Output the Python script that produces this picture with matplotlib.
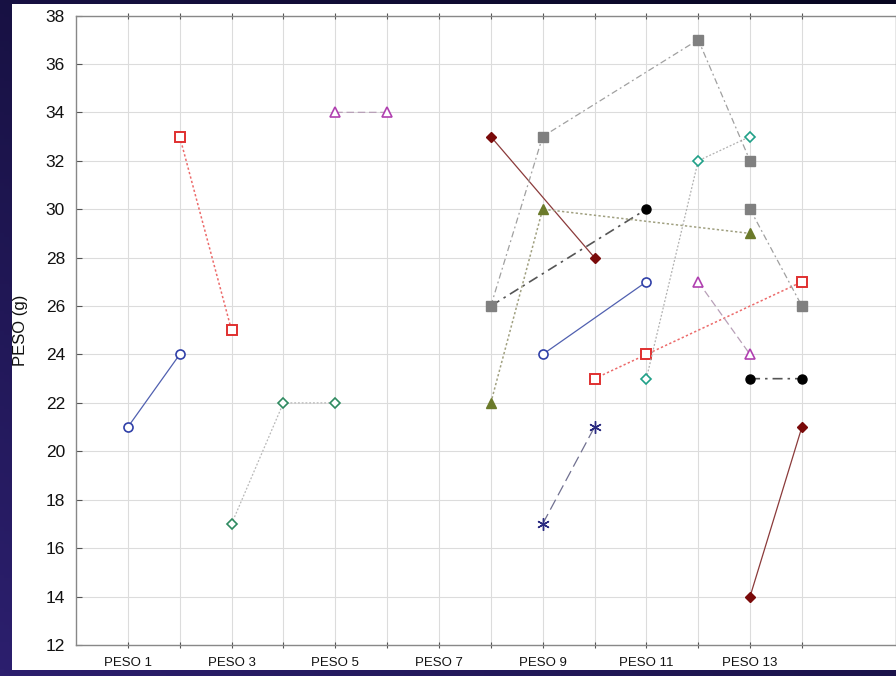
import numpy as np
import matplotlib
matplotlib.use("Agg")
import matplotlib.pyplot as plt
from matplotlib.patches import Rectangle
from matplotlib.colors import LinearSegmentedColormap

nan = np.nan

# ---- data ----
tick_positions = list(range(1, 15))
tick_labels = ['PESO 1', '', 'PESO 3', '', 'PESO 5', '', 'PESO 7', '',
               'PESO 9', '', 'PESO 11', '', 'PESO 13', '']

blue_x = [1, 2, nan, 9, 11]
blue_y = [21, 24, nan, 24, 27]

red_x = [2, 3, nan, 10, 11, 14]
red_y = [33, 25, nan, 23, 24, 27]

green_x = [3, 4, 5]
green_y = [17, 22, 22]

teal_x = [11, 12, 13]
teal_y = [23, 32, 33]

purple_x = [5, 6, nan, 12, 13]
purple_y = [34, 34, nan, 27, 24]

darkred_x = [8, 10, nan, 13, 14]
darkred_y = [33, 28, nan, 14, 21]

gray_x = [8, 9, 12, 13, nan, 13, 14]
gray_y = [26, 33, 37, 32, nan, 30, 26]

olive_x = [8, 9, 13]
olive_y = [22, 30, 29]

black_x = [8, 11, nan, 13, 14]
black_y = [26, 30, nan, 23, 23]

navy_x = [9, 10]
navy_y = [17, 21]

# ---- figure ----
W, H = 896, 676
fig = plt.figure(figsize=(W / 100, H / 100), dpi=100)
plt.rcParams['font.family'] = ['Liberation Sans Narrow', 'Liberation Sans', 'DejaVu Sans']

# background gradient
bg = fig.add_axes([0, 0, 1, 1], zorder=-10)
gy, gx = np.mgrid[0:1:200j, 0:1:200j]
grad = 0.55 * gy + 0.45 * (1 - gx)
cmap = LinearSegmentedColormap.from_list('bgc', ['#070620', '#2c1f6e'])
bg.imshow(grad, cmap=cmap, aspect='auto', origin='upper', extent=[0, 1, 0, 1])
bg.add_patch(Rectangle((12 / W, 1 - 670 / H), (W - 12) / W, (670 - 4) / H,
                       facecolor='white', edgecolor='none', transform=bg.transAxes))
bg.set_xlim(0, 1)
bg.set_ylim(0, 1)
bg.axis('off')

left, right, top, bottom = 76, 896, 15.5, 645
ax = fig.add_axes([left / W, 1 - bottom / H, (right - left) / W, (bottom - top) / H])
ax.set_facecolor('white')

ax.set_xlim(0, (right - left) / 51.85)
ax.set_ylim(12, 38)
ax.set_yticks(np.arange(12, 39, 2))
ax.set_xticks(tick_positions)
ax.set_xticklabels(tick_labels, fontsize=9.5, color='#111111')
ax.tick_params(axis='y', labelsize=12.5, colors='#555555', direction='in', length=4,
               labelcolor='#111111', pad=8)
ax.tick_params(axis='x', direction='inout', length=5, top=True, colors='#555555',
               labelcolor='#111111', pad=6)
for s in ax.spines.values():
    s.set_color('#888888')
    s.set_linewidth(1.0)
ax.grid(True, color='#dcdcdc', linewidth=0.8)
ax.set_axisbelow(True)
ax.set_ylabel('PESO (g)', fontsize=12, color='#111111')
ax.yaxis.set_label_coords(-0.058, 0.5)

lw = 0.9
ax.plot(blue_x, blue_y, color='#5060b0', lw=lw, ls='-', marker='o', ms=6.5,
        mfc='white', mec='#3040a8', mew=1.2, zorder=3)
ax.plot(red_x, red_y, color='#ec6a6a', lw=1.1, ls=(0, (1.5, 1.5)), marker='s', ms=7,
        mfc='white', mec='#e03030', mew=1.4, zorder=3)
ax.plot(green_x, green_y, color='#b8b8b8', lw=lw, ls=(0, (1.5, 1.5)), marker='D', ms=5.5,
        mfc='white', mec='#2e8a60', mew=1.2, zorder=3)
ax.plot(teal_x, teal_y, color='#b0b0b0', lw=lw, ls=(0, (1.5, 1.5)), marker='D', ms=5.5,
        mfc='white', mec='#20a088', mew=1.2, zorder=3)
ax.plot(purple_x, purple_y, color='#b8a0b8', lw=lw, ls=(0, (6, 3)), marker='^', ms=7,
        mfc='white', mec='#b040b0', mew=1.2, zorder=3)
ax.plot(darkred_x, darkred_y, color='#8b3a3a', lw=lw, ls='-', marker='D', ms=5.5,
        mfc='#7a0a0a', mec='#7a0a0a', zorder=3)
ax.plot(black_x, black_y, color='#555555', lw=1.2, ls=(0, (6, 3, 1.5, 3)), marker='o', ms=6.5,
        mfc='black', mec='black', zorder=3, markevery=[1, 3, 4])
ax.plot(gray_x, gray_y, color='#a0a0a0', lw=lw, ls=(0, (5, 2.5, 1.5, 2.5)), marker='s', ms=7.5,
        mfc='#808080', mec='#808080', zorder=4)
ax.plot(olive_x, olive_y, color='#a0a080', lw=1.1, ls=(0, (1.5, 1.5)), marker='^', ms=7.5,
        mfc='#6b7a2a', mec='#6b7a2a', zorder=3)
ax.plot(navy_x, navy_y, color='#707090', lw=lw, ls=(0, (9, 4)), zorder=3)
ax.plot(navy_x, navy_y, ls='none', marker=(6, 2, 0), ms=9, mec='#2a2a80', mew=1.0, zorder=4)

fig.savefig('out.png', dpi=100)
